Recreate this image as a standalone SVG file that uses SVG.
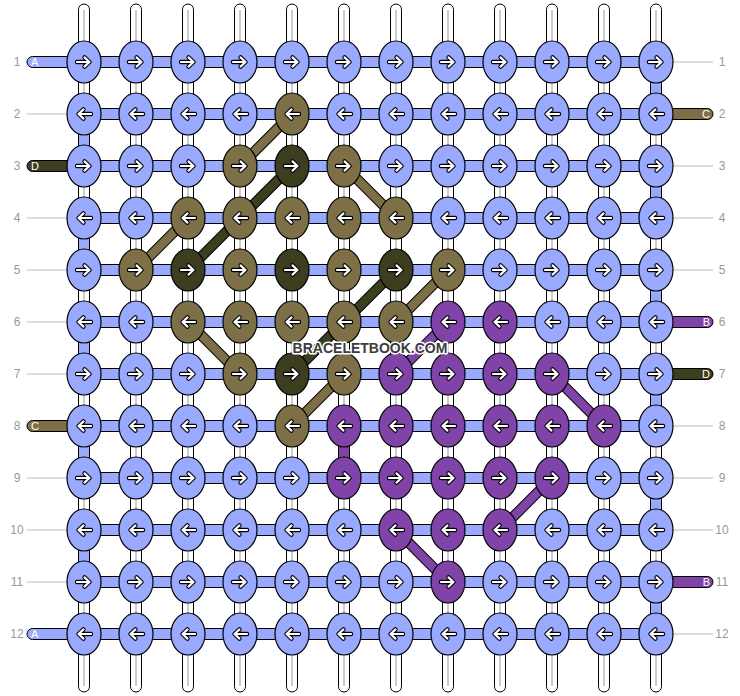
<svg xmlns="http://www.w3.org/2000/svg" xmlns:xlink="http://www.w3.org/1999/xlink" width="740" height="696" viewBox="0 0 740 696">
<style>
.vs{fill:#fff;stroke:#000;stroke-width:1}
.vl{stroke:#cccccc;stroke-width:2}
.hb{fill:#98a9fe;stroke:#000;stroke-width:1}
.seg{stroke:#000;stroke-width:1}
.gl{stroke:#bbbbbb;stroke-width:1}
.k ellipse{stroke:#000;stroke-width:1.2}
.b{fill:#98a9fe}
.o{fill:#7d7047}
.d{fill:#3d3d1f}
.p{fill:#8044a8}
.dgo{stroke:#000;stroke-width:10.5;fill:none}
.dgi{stroke-width:8.5;fill:none}
.so{stroke:#7d7047}
.sd{stroke:#3d3d1f}
.sp{stroke:#8044a8}
.num{font-family:"Liberation Sans",Arial,sans-serif;font-size:12px;fill:#999999;text-anchor:middle}
.sl{font-family:"Liberation Sans",Arial,sans-serif;font-size:11px;fill:#ffffff}
.wm{font-family:"Liberation Sans",Arial,sans-serif;font-size:14px;font-weight:bold;fill:#3c3c3c;stroke:#ffffff;stroke-width:3;paint-order:stroke;stroke-linejoin:round;text-anchor:middle}
</style>
<defs>
<g id="ar">
<path d="M-7 0H5M0.5-4.6L5.5 0L0.5 4.6" fill="none" stroke="#000" stroke-width="4.4" stroke-linecap="round" stroke-linejoin="round"/>
<path d="M-7 0H5M0.5-4.6L5.5 0L0.5 4.6" fill="none" stroke="#fff" stroke-width="2.2" stroke-linecap="round" stroke-linejoin="round"/>
</g>
<g id="al" transform="scale(-1,1)"><use href="#ar"/></g>
</defs>
<rect width="740" height="696" fill="#ffffff"/>

<g id="connectors">
<g id="verticals">
<rect class="vs" x="78.5" y="4" width="11" height="688" rx="5.5"/>
<rect class="vs" x="130.5" y="4" width="11" height="688" rx="5.5"/>
<rect class="vs" x="182.5" y="4" width="11" height="688" rx="5.5"/>
<rect class="vs" x="234.5" y="4" width="11" height="688" rx="5.5"/>
<rect class="vs" x="286.5" y="4" width="11" height="688" rx="5.5"/>
<rect class="vs" x="338.5" y="4" width="11" height="688" rx="5.5"/>
<rect class="vs" x="390.5" y="4" width="11" height="688" rx="5.5"/>
<rect class="vs" x="442.5" y="4" width="11" height="688" rx="5.5"/>
<rect class="vs" x="494.5" y="4" width="11" height="688" rx="5.5"/>
<rect class="vs" x="546.5" y="4" width="11" height="688" rx="5.5"/>
<rect class="vs" x="598.5" y="4" width="11" height="688" rx="5.5"/>
<rect class="vs" x="650.5" y="4" width="11" height="688" rx="5.5"/>
<path class="vl" d="M84 10V686M136 10V686M188 10V686M240 10V686M292 10V686M344 10V686M396 10V686M448 10V686M500 10V686M552 10V686M604 10V686M656 10V686"/>
</g>
<g id="horizontals">
<rect class="hb" x="84" y="56.5" width="572" height="11"/>
<rect class="hb" x="84" y="108.5" width="572" height="11"/>
<rect class="hb" x="84" y="160.5" width="572" height="11"/>
<rect class="hb" x="84" y="212.5" width="572" height="11"/>
<rect class="hb" x="84" y="264.5" width="572" height="11"/>
<rect class="hb" x="84" y="316.5" width="572" height="11"/>
<rect class="hb" x="84" y="368.5" width="572" height="11"/>
<rect class="hb" x="84" y="420.5" width="572" height="11"/>
<rect class="hb" x="84" y="472.5" width="572" height="11"/>
<rect class="hb" x="84" y="524.5" width="572" height="11"/>
<rect class="hb" x="84" y="576.5" width="572" height="11"/>
<rect class="hb" x="84" y="628.5" width="572" height="11"/>
</g>
<g id="ends">
<rect class="seg b" x="27" y="56.5" width="53" height="11" rx="5.5"/>
<rect class="seg d" x="27" y="160.5" width="53" height="11" rx="5.5"/>
<rect class="seg o" x="27" y="420.5" width="53" height="11" rx="5.5"/>
<rect class="seg b" x="27" y="628.5" width="53" height="11" rx="5.5"/>
<rect class="seg o" x="660" y="108.5" width="53" height="11" rx="5.5"/>
<rect class="seg p" x="660" y="316.5" width="53" height="11" rx="5.5"/>
<rect class="seg d" x="660" y="368.5" width="53" height="11" rx="5.5"/>
<rect class="seg p" x="660" y="576.5" width="53" height="11" rx="5.5"/>
<path class="gl" d="M27 114H68M27 218H68M27 270H68M27 322H68M27 374H68M27 478H68M27 530H68M27 582H68"/>
<path class="gl" d="M672 62H713M672 166H713M672 218H713M672 270H713M672 426H713M672 478H713M672 530H713M672 634H713"/>
</g>
<g id="turns">
<rect class="seg b" x="78.5" y="114" width="11" height="52"/>
<rect class="seg b" x="78.5" y="218" width="11" height="52"/>
<rect class="seg b" x="78.5" y="322" width="11" height="52"/>
<rect class="seg b" x="78.5" y="426" width="11" height="52"/>
<rect class="seg b" x="78.5" y="530" width="11" height="52"/>
<rect class="seg b" x="650.5" y="62" width="11" height="52"/>
<rect class="seg b" x="650.5" y="166" width="11" height="52"/>
<rect class="seg b" x="650.5" y="270" width="11" height="52"/>
<rect class="seg b" x="650.5" y="374" width="11" height="52"/>
<rect class="seg b" x="650.5" y="478" width="11" height="52"/>
<rect class="seg b" x="650.5" y="582" width="11" height="52"/>
<rect class="seg p" x="338.5" y="426" width="11" height="52"/>
</g>
<g id="diagonals">
<path class="dgo" d="M292 114L240 166M188 218L136 270M344 166L396 218M188 322L240 374M448 270L396 322M344 374L292 426M292 166L188 270M396 270L292 374M448 322L396 374M552 374L604 426M552 478L500 530M396 530L448 582"/>
<path class="dgi so" d="M292 114L240 166M188 218L136 270M344 166L396 218M188 322L240 374M448 270L396 322M344 374L292 426"/>
<path class="dgi sd" d="M292 166L188 270M396 270L292 374"/>
<path class="dgi sp" d="M448 322L396 374M552 374L604 426M552 478L500 530M396 530L448 582"/>
</g>
</g>

<g id="knots">
<g id="k1-1" class="k b"><ellipse cx="84" cy="62" rx="17" ry="21"/><use href="#ar" x="84" y="62"/></g>
<g id="k1-2" class="k b"><ellipse cx="136" cy="62" rx="17" ry="21"/><use href="#ar" x="136" y="62"/></g>
<g id="k1-3" class="k b"><ellipse cx="188" cy="62" rx="17" ry="21"/><use href="#ar" x="188" y="62"/></g>
<g id="k1-4" class="k b"><ellipse cx="240" cy="62" rx="17" ry="21"/><use href="#ar" x="240" y="62"/></g>
<g id="k1-5" class="k b"><ellipse cx="292" cy="62" rx="17" ry="21"/><use href="#ar" x="292" y="62"/></g>
<g id="k1-6" class="k b"><ellipse cx="344" cy="62" rx="17" ry="21"/><use href="#ar" x="344" y="62"/></g>
<g id="k1-7" class="k b"><ellipse cx="396" cy="62" rx="17" ry="21"/><use href="#ar" x="396" y="62"/></g>
<g id="k1-8" class="k b"><ellipse cx="448" cy="62" rx="17" ry="21"/><use href="#ar" x="448" y="62"/></g>
<g id="k1-9" class="k b"><ellipse cx="500" cy="62" rx="17" ry="21"/><use href="#ar" x="500" y="62"/></g>
<g id="k1-10" class="k b"><ellipse cx="552" cy="62" rx="17" ry="21"/><use href="#ar" x="552" y="62"/></g>
<g id="k1-11" class="k b"><ellipse cx="604" cy="62" rx="17" ry="21"/><use href="#ar" x="604" y="62"/></g>
<g id="k1-12" class="k b"><ellipse cx="656" cy="62" rx="17" ry="21"/><use href="#ar" x="656" y="62"/></g>

<g id="k2-1" class="k b"><ellipse cx="84" cy="114" rx="17" ry="21"/><use href="#al" x="84" y="114"/></g>
<g id="k2-2" class="k b"><ellipse cx="136" cy="114" rx="17" ry="21"/><use href="#al" x="136" y="114"/></g>
<g id="k2-3" class="k b"><ellipse cx="188" cy="114" rx="17" ry="21"/><use href="#al" x="188" y="114"/></g>
<g id="k2-4" class="k b"><ellipse cx="240" cy="114" rx="17" ry="21"/><use href="#al" x="240" y="114"/></g>
<g id="k2-5" class="k o"><ellipse cx="292" cy="114" rx="17" ry="21"/><use href="#al" x="292" y="114"/></g>
<g id="k2-6" class="k b"><ellipse cx="344" cy="114" rx="17" ry="21"/><use href="#al" x="344" y="114"/></g>
<g id="k2-7" class="k b"><ellipse cx="396" cy="114" rx="17" ry="21"/><use href="#al" x="396" y="114"/></g>
<g id="k2-8" class="k b"><ellipse cx="448" cy="114" rx="17" ry="21"/><use href="#al" x="448" y="114"/></g>
<g id="k2-9" class="k b"><ellipse cx="500" cy="114" rx="17" ry="21"/><use href="#al" x="500" y="114"/></g>
<g id="k2-10" class="k b"><ellipse cx="552" cy="114" rx="17" ry="21"/><use href="#al" x="552" y="114"/></g>
<g id="k2-11" class="k b"><ellipse cx="604" cy="114" rx="17" ry="21"/><use href="#al" x="604" y="114"/></g>
<g id="k2-12" class="k b"><ellipse cx="656" cy="114" rx="17" ry="21"/><use href="#al" x="656" y="114"/></g>

<g id="k3-1" class="k b"><ellipse cx="84" cy="166" rx="17" ry="21"/><use href="#ar" x="84" y="166"/></g>
<g id="k3-2" class="k b"><ellipse cx="136" cy="166" rx="17" ry="21"/><use href="#ar" x="136" y="166"/></g>
<g id="k3-3" class="k b"><ellipse cx="188" cy="166" rx="17" ry="21"/><use href="#ar" x="188" y="166"/></g>
<g id="k3-4" class="k o"><ellipse cx="240" cy="166" rx="17" ry="21"/><use href="#ar" x="240" y="166"/></g>
<g id="k3-5" class="k d"><ellipse cx="292" cy="166" rx="17" ry="21"/><use href="#ar" x="292" y="166"/></g>
<g id="k3-6" class="k o"><ellipse cx="344" cy="166" rx="17" ry="21"/><use href="#ar" x="344" y="166"/></g>
<g id="k3-7" class="k b"><ellipse cx="396" cy="166" rx="17" ry="21"/><use href="#ar" x="396" y="166"/></g>
<g id="k3-8" class="k b"><ellipse cx="448" cy="166" rx="17" ry="21"/><use href="#ar" x="448" y="166"/></g>
<g id="k3-9" class="k b"><ellipse cx="500" cy="166" rx="17" ry="21"/><use href="#ar" x="500" y="166"/></g>
<g id="k3-10" class="k b"><ellipse cx="552" cy="166" rx="17" ry="21"/><use href="#ar" x="552" y="166"/></g>
<g id="k3-11" class="k b"><ellipse cx="604" cy="166" rx="17" ry="21"/><use href="#ar" x="604" y="166"/></g>
<g id="k3-12" class="k b"><ellipse cx="656" cy="166" rx="17" ry="21"/><use href="#ar" x="656" y="166"/></g>

<g id="k4-1" class="k b"><ellipse cx="84" cy="218" rx="17" ry="21"/><use href="#al" x="84" y="218"/></g>
<g id="k4-2" class="k b"><ellipse cx="136" cy="218" rx="17" ry="21"/><use href="#al" x="136" y="218"/></g>
<g id="k4-3" class="k o"><ellipse cx="188" cy="218" rx="17" ry="21"/><use href="#al" x="188" y="218"/></g>
<g id="k4-4" class="k o"><ellipse cx="240" cy="218" rx="17" ry="21"/><use href="#al" x="240" y="218"/></g>
<g id="k4-5" class="k o"><ellipse cx="292" cy="218" rx="17" ry="21"/><use href="#al" x="292" y="218"/></g>
<g id="k4-6" class="k o"><ellipse cx="344" cy="218" rx="17" ry="21"/><use href="#al" x="344" y="218"/></g>
<g id="k4-7" class="k o"><ellipse cx="396" cy="218" rx="17" ry="21"/><use href="#al" x="396" y="218"/></g>
<g id="k4-8" class="k b"><ellipse cx="448" cy="218" rx="17" ry="21"/><use href="#al" x="448" y="218"/></g>
<g id="k4-9" class="k b"><ellipse cx="500" cy="218" rx="17" ry="21"/><use href="#al" x="500" y="218"/></g>
<g id="k4-10" class="k b"><ellipse cx="552" cy="218" rx="17" ry="21"/><use href="#al" x="552" y="218"/></g>
<g id="k4-11" class="k b"><ellipse cx="604" cy="218" rx="17" ry="21"/><use href="#al" x="604" y="218"/></g>
<g id="k4-12" class="k b"><ellipse cx="656" cy="218" rx="17" ry="21"/><use href="#al" x="656" y="218"/></g>

<g id="k5-1" class="k b"><ellipse cx="84" cy="270" rx="17" ry="21"/><use href="#ar" x="84" y="270"/></g>
<g id="k5-2" class="k o"><ellipse cx="136" cy="270" rx="17" ry="21"/><use href="#ar" x="136" y="270"/></g>
<g id="k5-3" class="k d"><ellipse cx="188" cy="270" rx="17" ry="21"/><use href="#ar" x="188" y="270"/></g>
<g id="k5-4" class="k o"><ellipse cx="240" cy="270" rx="17" ry="21"/><use href="#ar" x="240" y="270"/></g>
<g id="k5-5" class="k d"><ellipse cx="292" cy="270" rx="17" ry="21"/><use href="#ar" x="292" y="270"/></g>
<g id="k5-6" class="k o"><ellipse cx="344" cy="270" rx="17" ry="21"/><use href="#ar" x="344" y="270"/></g>
<g id="k5-7" class="k d"><ellipse cx="396" cy="270" rx="17" ry="21"/><use href="#ar" x="396" y="270"/></g>
<g id="k5-8" class="k o"><ellipse cx="448" cy="270" rx="17" ry="21"/><use href="#ar" x="448" y="270"/></g>
<g id="k5-9" class="k b"><ellipse cx="500" cy="270" rx="17" ry="21"/><use href="#ar" x="500" y="270"/></g>
<g id="k5-10" class="k b"><ellipse cx="552" cy="270" rx="17" ry="21"/><use href="#ar" x="552" y="270"/></g>
<g id="k5-11" class="k b"><ellipse cx="604" cy="270" rx="17" ry="21"/><use href="#ar" x="604" y="270"/></g>
<g id="k5-12" class="k b"><ellipse cx="656" cy="270" rx="17" ry="21"/><use href="#ar" x="656" y="270"/></g>

<g id="k6-1" class="k b"><ellipse cx="84" cy="322" rx="17" ry="21"/><use href="#al" x="84" y="322"/></g>
<g id="k6-2" class="k b"><ellipse cx="136" cy="322" rx="17" ry="21"/><use href="#al" x="136" y="322"/></g>
<g id="k6-3" class="k o"><ellipse cx="188" cy="322" rx="17" ry="21"/><use href="#al" x="188" y="322"/></g>
<g id="k6-4" class="k o"><ellipse cx="240" cy="322" rx="17" ry="21"/><use href="#al" x="240" y="322"/></g>
<g id="k6-5" class="k o"><ellipse cx="292" cy="322" rx="17" ry="21"/><use href="#al" x="292" y="322"/></g>
<g id="k6-6" class="k o"><ellipse cx="344" cy="322" rx="17" ry="21"/><use href="#al" x="344" y="322"/></g>
<g id="k6-7" class="k o"><ellipse cx="396" cy="322" rx="17" ry="21"/><use href="#al" x="396" y="322"/></g>
<g id="k6-8" class="k p"><ellipse cx="448" cy="322" rx="17" ry="21"/><use href="#al" x="448" y="322"/></g>
<g id="k6-9" class="k p"><ellipse cx="500" cy="322" rx="17" ry="21"/><use href="#al" x="500" y="322"/></g>
<g id="k6-10" class="k b"><ellipse cx="552" cy="322" rx="17" ry="21"/><use href="#al" x="552" y="322"/></g>
<g id="k6-11" class="k b"><ellipse cx="604" cy="322" rx="17" ry="21"/><use href="#al" x="604" y="322"/></g>
<g id="k6-12" class="k b"><ellipse cx="656" cy="322" rx="17" ry="21"/><use href="#al" x="656" y="322"/></g>

<g id="k7-1" class="k b"><ellipse cx="84" cy="374" rx="17" ry="21"/><use href="#ar" x="84" y="374"/></g>
<g id="k7-2" class="k b"><ellipse cx="136" cy="374" rx="17" ry="21"/><use href="#ar" x="136" y="374"/></g>
<g id="k7-3" class="k b"><ellipse cx="188" cy="374" rx="17" ry="21"/><use href="#ar" x="188" y="374"/></g>
<g id="k7-4" class="k o"><ellipse cx="240" cy="374" rx="17" ry="21"/><use href="#ar" x="240" y="374"/></g>
<g id="k7-5" class="k d"><ellipse cx="292" cy="374" rx="17" ry="21"/><use href="#ar" x="292" y="374"/></g>
<g id="k7-6" class="k o"><ellipse cx="344" cy="374" rx="17" ry="21"/><use href="#ar" x="344" y="374"/></g>
<g id="k7-7" class="k p"><ellipse cx="396" cy="374" rx="17" ry="21"/><use href="#ar" x="396" y="374"/></g>
<g id="k7-8" class="k p"><ellipse cx="448" cy="374" rx="17" ry="21"/><use href="#ar" x="448" y="374"/></g>
<g id="k7-9" class="k p"><ellipse cx="500" cy="374" rx="17" ry="21"/><use href="#ar" x="500" y="374"/></g>
<g id="k7-10" class="k p"><ellipse cx="552" cy="374" rx="17" ry="21"/><use href="#ar" x="552" y="374"/></g>
<g id="k7-11" class="k b"><ellipse cx="604" cy="374" rx="17" ry="21"/><use href="#ar" x="604" y="374"/></g>
<g id="k7-12" class="k b"><ellipse cx="656" cy="374" rx="17" ry="21"/><use href="#ar" x="656" y="374"/></g>

<g id="k8-1" class="k b"><ellipse cx="84" cy="426" rx="17" ry="21"/><use href="#al" x="84" y="426"/></g>
<g id="k8-2" class="k b"><ellipse cx="136" cy="426" rx="17" ry="21"/><use href="#al" x="136" y="426"/></g>
<g id="k8-3" class="k b"><ellipse cx="188" cy="426" rx="17" ry="21"/><use href="#al" x="188" y="426"/></g>
<g id="k8-4" class="k b"><ellipse cx="240" cy="426" rx="17" ry="21"/><use href="#al" x="240" y="426"/></g>
<g id="k8-5" class="k o"><ellipse cx="292" cy="426" rx="17" ry="21"/><use href="#al" x="292" y="426"/></g>
<g id="k8-6" class="k p"><ellipse cx="344" cy="426" rx="17" ry="21"/><use href="#al" x="344" y="426"/></g>
<g id="k8-7" class="k p"><ellipse cx="396" cy="426" rx="17" ry="21"/><use href="#al" x="396" y="426"/></g>
<g id="k8-8" class="k p"><ellipse cx="448" cy="426" rx="17" ry="21"/><use href="#al" x="448" y="426"/></g>
<g id="k8-9" class="k p"><ellipse cx="500" cy="426" rx="17" ry="21"/><use href="#al" x="500" y="426"/></g>
<g id="k8-10" class="k p"><ellipse cx="552" cy="426" rx="17" ry="21"/><use href="#al" x="552" y="426"/></g>
<g id="k8-11" class="k p"><ellipse cx="604" cy="426" rx="17" ry="21"/><use href="#al" x="604" y="426"/></g>
<g id="k8-12" class="k b"><ellipse cx="656" cy="426" rx="17" ry="21"/><use href="#al" x="656" y="426"/></g>

<g id="k9-1" class="k b"><ellipse cx="84" cy="478" rx="17" ry="21"/><use href="#ar" x="84" y="478"/></g>
<g id="k9-2" class="k b"><ellipse cx="136" cy="478" rx="17" ry="21"/><use href="#ar" x="136" y="478"/></g>
<g id="k9-3" class="k b"><ellipse cx="188" cy="478" rx="17" ry="21"/><use href="#ar" x="188" y="478"/></g>
<g id="k9-4" class="k b"><ellipse cx="240" cy="478" rx="17" ry="21"/><use href="#ar" x="240" y="478"/></g>
<g id="k9-5" class="k b"><ellipse cx="292" cy="478" rx="17" ry="21"/><use href="#ar" x="292" y="478"/></g>
<g id="k9-6" class="k p"><ellipse cx="344" cy="478" rx="17" ry="21"/><use href="#ar" x="344" y="478"/></g>
<g id="k9-7" class="k p"><ellipse cx="396" cy="478" rx="17" ry="21"/><use href="#ar" x="396" y="478"/></g>
<g id="k9-8" class="k p"><ellipse cx="448" cy="478" rx="17" ry="21"/><use href="#ar" x="448" y="478"/></g>
<g id="k9-9" class="k p"><ellipse cx="500" cy="478" rx="17" ry="21"/><use href="#ar" x="500" y="478"/></g>
<g id="k9-10" class="k p"><ellipse cx="552" cy="478" rx="17" ry="21"/><use href="#ar" x="552" y="478"/></g>
<g id="k9-11" class="k b"><ellipse cx="604" cy="478" rx="17" ry="21"/><use href="#ar" x="604" y="478"/></g>
<g id="k9-12" class="k b"><ellipse cx="656" cy="478" rx="17" ry="21"/><use href="#ar" x="656" y="478"/></g>

<g id="k10-1" class="k b"><ellipse cx="84" cy="530" rx="17" ry="21"/><use href="#al" x="84" y="530"/></g>
<g id="k10-2" class="k b"><ellipse cx="136" cy="530" rx="17" ry="21"/><use href="#al" x="136" y="530"/></g>
<g id="k10-3" class="k b"><ellipse cx="188" cy="530" rx="17" ry="21"/><use href="#al" x="188" y="530"/></g>
<g id="k10-4" class="k b"><ellipse cx="240" cy="530" rx="17" ry="21"/><use href="#al" x="240" y="530"/></g>
<g id="k10-5" class="k b"><ellipse cx="292" cy="530" rx="17" ry="21"/><use href="#al" x="292" y="530"/></g>
<g id="k10-6" class="k b"><ellipse cx="344" cy="530" rx="17" ry="21"/><use href="#al" x="344" y="530"/></g>
<g id="k10-7" class="k p"><ellipse cx="396" cy="530" rx="17" ry="21"/><use href="#al" x="396" y="530"/></g>
<g id="k10-8" class="k p"><ellipse cx="448" cy="530" rx="17" ry="21"/><use href="#al" x="448" y="530"/></g>
<g id="k10-9" class="k p"><ellipse cx="500" cy="530" rx="17" ry="21"/><use href="#al" x="500" y="530"/></g>
<g id="k10-10" class="k b"><ellipse cx="552" cy="530" rx="17" ry="21"/><use href="#al" x="552" y="530"/></g>
<g id="k10-11" class="k b"><ellipse cx="604" cy="530" rx="17" ry="21"/><use href="#al" x="604" y="530"/></g>
<g id="k10-12" class="k b"><ellipse cx="656" cy="530" rx="17" ry="21"/><use href="#al" x="656" y="530"/></g>

<g id="k11-1" class="k b"><ellipse cx="84" cy="582" rx="17" ry="21"/><use href="#ar" x="84" y="582"/></g>
<g id="k11-2" class="k b"><ellipse cx="136" cy="582" rx="17" ry="21"/><use href="#ar" x="136" y="582"/></g>
<g id="k11-3" class="k b"><ellipse cx="188" cy="582" rx="17" ry="21"/><use href="#ar" x="188" y="582"/></g>
<g id="k11-4" class="k b"><ellipse cx="240" cy="582" rx="17" ry="21"/><use href="#ar" x="240" y="582"/></g>
<g id="k11-5" class="k b"><ellipse cx="292" cy="582" rx="17" ry="21"/><use href="#ar" x="292" y="582"/></g>
<g id="k11-6" class="k b"><ellipse cx="344" cy="582" rx="17" ry="21"/><use href="#ar" x="344" y="582"/></g>
<g id="k11-7" class="k b"><ellipse cx="396" cy="582" rx="17" ry="21"/><use href="#ar" x="396" y="582"/></g>
<g id="k11-8" class="k p"><ellipse cx="448" cy="582" rx="17" ry="21"/><use href="#ar" x="448" y="582"/></g>
<g id="k11-9" class="k b"><ellipse cx="500" cy="582" rx="17" ry="21"/><use href="#ar" x="500" y="582"/></g>
<g id="k11-10" class="k b"><ellipse cx="552" cy="582" rx="17" ry="21"/><use href="#ar" x="552" y="582"/></g>
<g id="k11-11" class="k b"><ellipse cx="604" cy="582" rx="17" ry="21"/><use href="#ar" x="604" y="582"/></g>
<g id="k11-12" class="k b"><ellipse cx="656" cy="582" rx="17" ry="21"/><use href="#ar" x="656" y="582"/></g>

<g id="k12-1" class="k b"><ellipse cx="84" cy="634" rx="17" ry="21"/><use href="#al" x="84" y="634"/></g>
<g id="k12-2" class="k b"><ellipse cx="136" cy="634" rx="17" ry="21"/><use href="#al" x="136" y="634"/></g>
<g id="k12-3" class="k b"><ellipse cx="188" cy="634" rx="17" ry="21"/><use href="#al" x="188" y="634"/></g>
<g id="k12-4" class="k b"><ellipse cx="240" cy="634" rx="17" ry="21"/><use href="#al" x="240" y="634"/></g>
<g id="k12-5" class="k b"><ellipse cx="292" cy="634" rx="17" ry="21"/><use href="#al" x="292" y="634"/></g>
<g id="k12-6" class="k b"><ellipse cx="344" cy="634" rx="17" ry="21"/><use href="#al" x="344" y="634"/></g>
<g id="k12-7" class="k b"><ellipse cx="396" cy="634" rx="17" ry="21"/><use href="#al" x="396" y="634"/></g>
<g id="k12-8" class="k b"><ellipse cx="448" cy="634" rx="17" ry="21"/><use href="#al" x="448" y="634"/></g>
<g id="k12-9" class="k b"><ellipse cx="500" cy="634" rx="17" ry="21"/><use href="#al" x="500" y="634"/></g>
<g id="k12-10" class="k b"><ellipse cx="552" cy="634" rx="17" ry="21"/><use href="#al" x="552" y="634"/></g>
<g id="k12-11" class="k b"><ellipse cx="604" cy="634" rx="17" ry="21"/><use href="#al" x="604" y="634"/></g>
<g id="k12-12" class="k b"><ellipse cx="656" cy="634" rx="17" ry="21"/><use href="#al" x="656" y="634"/></g>
</g>

<g id="labels">
<text class="num" x="17" y="66">1</text>
<text class="num" x="17" y="118">2</text>
<text class="num" x="17" y="170">3</text>
<text class="num" x="17" y="222">4</text>
<text class="num" x="17" y="274">5</text>
<text class="num" x="17" y="326">6</text>
<text class="num" x="17" y="378">7</text>
<text class="num" x="17" y="430">8</text>
<text class="num" x="17" y="482">9</text>
<text class="num" x="17" y="534">10</text>
<text class="num" x="17" y="586">11</text>
<text class="num" x="17" y="638">12</text>
<text class="num" x="722" y="66">1</text>
<text class="num" x="722" y="118">2</text>
<text class="num" x="722" y="170">3</text>
<text class="num" x="722" y="222">4</text>
<text class="num" x="722" y="274">5</text>
<text class="num" x="722" y="326">6</text>
<text class="num" x="722" y="378">7</text>
<text class="num" x="722" y="430">8</text>
<text class="num" x="722" y="482">9</text>
<text class="num" x="722" y="534">10</text>
<text class="num" x="722" y="586">11</text>
<text class="num" x="722" y="638">12</text>
<text class="sl" x="31" y="66">A</text>
<text class="sl" x="31" y="170">D</text>
<text class="sl" x="31" y="430">C</text>
<text class="sl" x="31" y="638">A</text>
<text class="sl" x="710" y="118" text-anchor="end">C</text>
<text class="sl" x="710" y="326" text-anchor="end">B</text>
<text class="sl" x="710" y="378" text-anchor="end">D</text>
<text class="sl" x="710" y="586" text-anchor="end">B</text>
<text class="wm" x="370" y="353">BRACELETBOOK.COM</text>
</g>
</svg>
